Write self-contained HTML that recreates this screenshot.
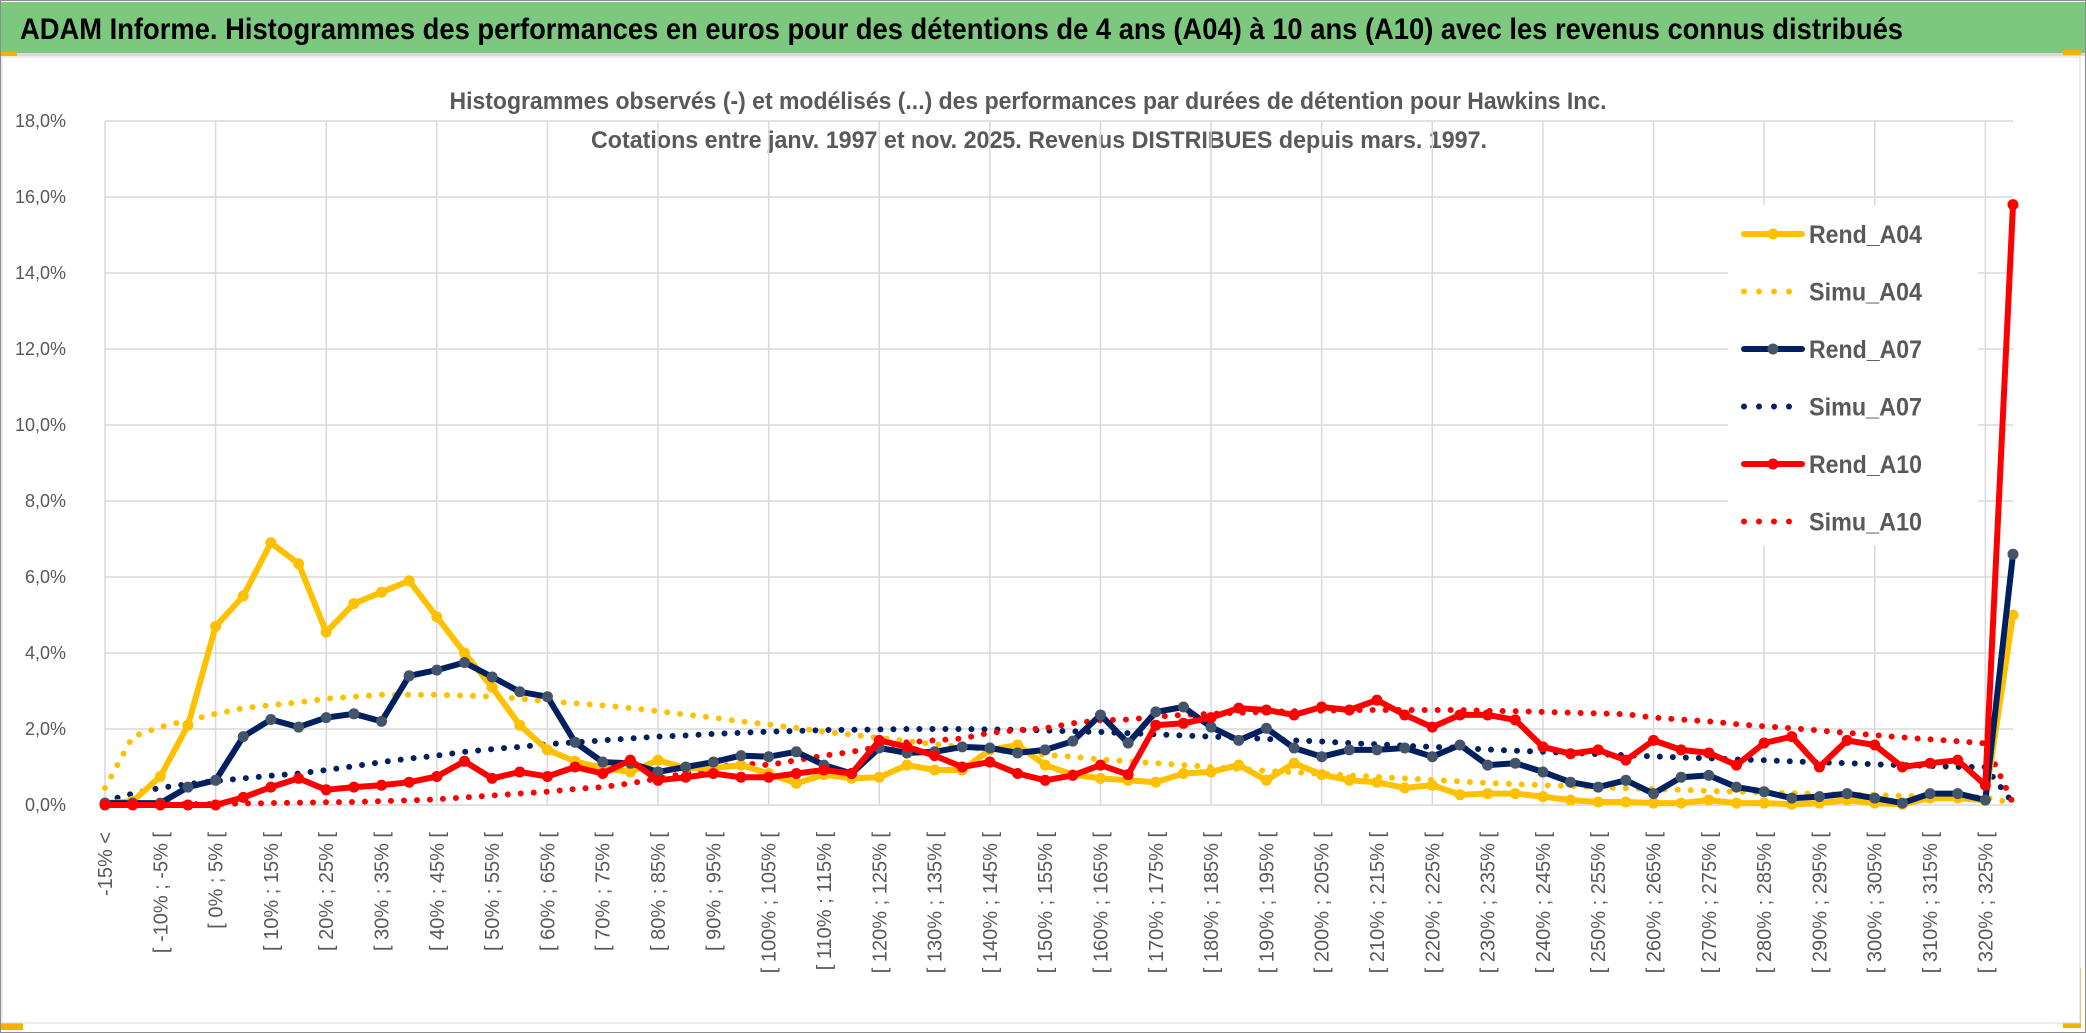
<!DOCTYPE html>
<html><head><meta charset="utf-8"><style>
html,body{margin:0;padding:0;background:#fff;}
svg{display:block;font-family:"Liberation Sans",sans-serif;}
</style></head><body>
<svg id="chart" width="2086" height="1033" viewBox="0 0 2086 1033" xmlns="http://www.w3.org/2000/svg">
<rect x="0.5" y="0.5" width="2085" height="1032" fill="#fff" stroke="#8c8c8c"/>
<rect x="1" y="2" width="2084" height="51" fill="#7DC87F"/>
<rect x="1" y="53" width="2084" height="3" fill="#d9d9d9"/>
<rect x="1" y="52" width="16" height="4" fill="#f0b400"/>
<rect x="1" y="1023" width="22" height="7" fill="#f0b400"/>
<rect x="2063" y="50" width="18" height="5" fill="#f0b400"/>
<rect x="2063" y="968" width="18" height="60" fill="#f0b400"/>
<rect x="2" y="57" width="2078" height="966" fill="#fff" stroke="#d9d9d9"/>
<text x="20" y="39" font-size="30" font-weight="bold" fill="#000" textLength="1883" lengthAdjust="spacingAndGlyphs">ADAM Informe. Histogrammes des performances en euros pour des détentions de 4 ans (A04) à 10 ans (A10) avec les revenus connus distribués</text>
<text x="1028" y="109" font-size="24" font-weight="bold" fill="#595959" text-anchor="middle" textLength="1157" lengthAdjust="spacingAndGlyphs">Histogrammes observés (-) et modélisés (...) des performances par durées de détention pour Hawkins Inc.</text>
<text x="1039" y="148" font-size="24" font-weight="bold" fill="#595959" text-anchor="middle" textLength="896" lengthAdjust="spacingAndGlyphs">Cotations entre janv. 1997 et nov. 2025. Revenus DISTRIBUES depuis mars. 1997.</text>
<g id="grid"></g>
<g id="axes"></g>
<g id="series"></g>
<g id="legend"></g>
</svg>
<script>
const categories = ["-15% <","[ -15% ; -10% [","[ -10% ; -5% [","[ -5% ; 0% [","[ 0% ; 5% [","[ 5% ; 10% [","[ 10% ; 15% [","[ 15% ; 20% [","[ 20% ; 25% [","[ 25% ; 30% [","[ 30% ; 35% [","[ 35% ; 40% [","[ 40% ; 45% [","[ 45% ; 50% [","[ 50% ; 55% [","[ 55% ; 60% [","[ 60% ; 65% [","[ 65% ; 70% [","[ 70% ; 75% [","[ 75% ; 80% [","[ 80% ; 85% [","[ 85% ; 90% [","[ 90% ; 95% [","[ 95% ; 100% [","[ 100% ; 105% [","[ 105% ; 110% [","[ 110% ; 115% [","[ 115% ; 120% [","[ 120% ; 125% [","[ 125% ; 130% [","[ 130% ; 135% [","[ 135% ; 140% [","[ 140% ; 145% [","[ 145% ; 150% [","[ 150% ; 155% [","[ 155% ; 160% [","[ 160% ; 165% [","[ 165% ; 170% [","[ 170% ; 175% [","[ 175% ; 180% [","[ 180% ; 185% [","[ 185% ; 190% [","[ 190% ; 195% [","[ 195% ; 200% [","[ 200% ; 205% [","[ 205% ; 210% [","[ 210% ; 215% [","[ 215% ; 220% [","[ 220% ; 225% [","[ 225% ; 230% [","[ 230% ; 235% [","[ 235% ; 240% [","[ 240% ; 245% [","[ 245% ; 250% [","[ 250% ; 255% [","[ 255% ; 260% [","[ 260% ; 265% [","[ 265% ; 270% [","[ 270% ; 275% [","[ 275% ; 280% [","[ 280% ; 285% [","[ 285% ; 290% [","[ 290% ; 295% [","[ 295% ; 300% [","[ 300% ; 305% [","[ 305% ; 310% [","[ 310% ; 315% [","[ 315% ; 320% [","[ 320% ; 325% [","> 325%"];
const yTicks = [0,2,4,6,8,10,12,14,16,18];
const yTickLabels = ["0,0%","2,0%","4,0%","6,0%","8,0%","10,0%","12,0%","14,0%","16,0%","18,0%"];
const rendA04 = [0.05,0.1,0.75,2.1,4.7,5.5,6.9,6.35,4.55,5.3,5.6,5.9,4.95,4.0,3.1,2.1,1.45,1.15,0.97,0.87,1.18,0.97,0.97,1.05,0.83,0.57,0.8,0.7,0.73,1.05,0.92,0.92,1.45,1.58,1.05,0.8,0.7,0.65,0.6,0.83,0.87,1.05,0.65,1.1,0.8,0.65,0.6,0.45,0.52,0.27,0.3,0.3,0.22,0.13,0.08,0.08,0.05,0.05,0.13,0.05,0.05,0.02,0.05,0.13,0.05,0.02,0.18,0.18,0.13,5.0];
const simuA04 = [0.45,1.8,2.05,2.23,2.4,2.55,2.63,2.7,2.8,2.85,2.9,2.9,2.9,2.88,2.85,2.8,2.72,2.68,2.62,2.55,2.47,2.38,2.3,2.2,2.12,2.03,1.93,1.85,1.77,1.68,1.6,1.53,1.45,1.38,1.32,1.27,1.2,1.15,1.1,1.05,1.0,0.95,0.9,0.86,0.82,0.78,0.74,0.7,0.66,0.62,0.58,0.55,0.52,0.5,0.47,0.44,0.42,0.4,0.37,0.35,0.33,0.31,0.29,0.28,0.26,0.24,0.23,0.22,0.2,0.05];
const rendA07 = [0.05,0.05,0.05,0.47,0.65,1.8,2.25,2.05,2.3,2.4,2.2,3.4,3.55,3.75,3.37,2.98,2.85,1.65,1.13,1.1,0.87,1.0,1.13,1.3,1.27,1.4,1.05,0.83,1.5,1.37,1.4,1.53,1.5,1.37,1.45,1.68,2.37,1.63,2.45,2.58,2.05,1.7,2.02,1.5,1.27,1.45,1.45,1.5,1.27,1.58,1.05,1.1,0.87,0.6,0.47,0.65,0.3,0.73,0.78,0.47,0.35,0.18,0.22,0.3,0.18,0.05,0.3,0.3,0.13,6.6];
const simuA07 = [0.1,0.3,0.45,0.55,0.63,0.7,0.77,0.83,0.92,1.02,1.13,1.22,1.3,1.4,1.47,1.53,1.6,1.65,1.7,1.75,1.8,1.83,1.87,1.9,1.93,1.95,1.97,1.98,1.99,2.0,2.0,2.0,1.99,1.98,1.96,1.94,1.92,1.89,1.86,1.83,1.8,1.77,1.74,1.7,1.67,1.63,1.6,1.56,1.53,1.5,1.46,1.43,1.4,1.37,1.34,1.31,1.28,1.25,1.23,1.2,1.18,1.15,1.12,1.1,1.07,1.05,1.03,1.0,1.0,0.05];
const rendA10 = [0,0,0,0,0,0.2,0.47,0.7,0.4,0.47,0.52,0.6,0.75,1.15,0.7,0.87,0.75,1.0,0.83,1.18,0.65,0.73,0.83,0.73,0.73,0.83,0.92,0.83,1.7,1.53,1.3,1.0,1.13,0.83,0.65,0.78,1.05,0.8,2.1,2.15,2.3,2.55,2.5,2.37,2.58,2.5,2.76,2.37,2.05,2.37,2.37,2.24,1.53,1.35,1.45,1.18,1.7,1.45,1.37,1.05,1.63,1.8,1.0,1.7,1.58,1.0,1.1,1.18,0.52,15.8];
const simuA10 = [0,0,0.01,0.02,0.03,0.04,0.05,0.06,0.07,0.08,0.1,0.12,0.15,0.2,0.25,0.3,0.35,0.42,0.47,0.57,0.7,0.83,0.97,1.1,1.05,1.18,1.3,1.4,1.53,1.65,1.7,1.75,1.9,1.97,2.02,2.15,2.23,2.25,2.32,2.37,2.4,2.43,2.45,2.47,2.48,2.5,2.5,2.5,2.5,2.5,2.48,2.47,2.45,2.43,2.41,2.39,2.3,2.25,2.2,2.13,2.07,2.02,1.96,1.9,1.84,1.78,1.73,1.68,1.62,0.05];

const NS = "http://www.w3.org/2000/svg";
const X0 = 105, X1 = 2013, Y0 = 805, Y1 = 121, YMAX = 18;
function xPos(i){ return X0 + (X1 - X0) * i / (categories.length - 1); }
function yPos(v){ return Y0 - (Y0 - Y1) * v / YMAX; }
function mk(tag, attrs, parent){ const e = document.createElementNS(NS, tag); for (const k in attrs) e.setAttribute(k, attrs[k]); parent.appendChild(e); return e; }

const grid = document.getElementById('grid');
yTicks.forEach((t, k) => {
  const l = mk('line', {x1: X0, x2: X1, y1: yPos(t), y2: yPos(t), stroke: '#d9d9d9', 'stroke-width': 1.5}, grid);
  
  
});
categories.forEach((c, i) => {
  if (i % 4 === 0) {
    const l = mk('line', {x1: xPos(i), x2: xPos(i), y1: Y1, y2: Y0, stroke: '#d9d9d9', 'stroke-width': 1.5}, grid);
    
    
  }
});
const axes = document.getElementById('axes');
yTicks.forEach((t, k) => {
  const tx = mk('text', {x: 66, y: yPos(t) + 6, 'font-size': 18, fill: '#595959', 'text-anchor': 'end'}, axes);
  tx.textContent = yTickLabels[k];
  
  
});
categories.forEach((c, i) => {
  if (i % 2 === 0) {
    const x = xPos(i) + 7, y = 832;
    const tx = mk('text', {x: x, y: y, 'font-size': 20, fill: '#595959', 'text-anchor': 'end', transform: 'rotate(-90 ' + x + ' ' + y + ')'}, axes);
    tx.textContent = c;
    
    
  }
});

const series = document.getElementById('series');
function pts(arr){ return arr.map((v, i) => xPos(i).toFixed(1) + ',' + yPos(v).toFixed(1)).join(' '); }
function dotted(arr, color, name){
  const p = mk('polyline', {points: pts(arr), fill: 'none', stroke: color, 'stroke-width': 6, 'stroke-linecap': 'round', 'stroke-dasharray': '0 13'}, series);
  
  
}
function solid(arr, color, mcolor, name){
  const p = mk('polyline', {points: pts(arr), fill: 'none', stroke: color, 'stroke-width': 6, 'stroke-linejoin': 'round'}, series);
  
  
  arr.forEach((v, i) => {
    const c = mk('circle', {cx: xPos(i), cy: yPos(v), r: 5.5, fill: mcolor}, series);
    
    
  });
}
dotted(simuA04, '#FFC000', 'simu-a04-line');
dotted(simuA07, '#002060', 'simu-a07-line');
dotted(simuA10, '#FF0000', 'simu-a10-line');
solid(rendA04, '#FFC000', '#FFC000', 'rend-a04-line');
solid(rendA07, '#002060', '#44546A', 'rend-a07-line');
solid(rendA10, '#FF0000', '#FF0000', 'rend-a10-line');

const legendNames = ['Rend_A04','Simu_A04','Rend_A07','Simu_A07','Rend_A10','Simu_A10'];
const legendColors = ['#FFC000','#FFC000','#002060','#002060','#FF0000','#FF0000'];
const legendMarkers = ['#FFC000',null,'#44546A',null,'#FF0000',null];
const legend = document.getElementById('legend');
mk('rect', {x: 1728, y: 205, width: 250, height: 340, fill: '#fff'}, legend);
legendNames.forEach((n, k) => {
  const y = 234 + k * 57.5;
  const g = mk('g', {}, legend);
  
  
  if (legendMarkers[k]) {
    mk('line', {x1: 1744, x2: 1802, y1: y, y2: y, stroke: legendColors[k], 'stroke-width': 6, 'stroke-linecap': 'round'}, g);
    mk('circle', {cx: 1773, cy: y, r: 5.5, fill: legendMarkers[k]}, g);
  } else {
    mk('line', {x1: 1744, x2: 1800, y1: y, y2: y, stroke: legendColors[k], 'stroke-width': 6, 'stroke-linecap': 'round', 'stroke-dasharray': '0 15'}, g);
  }
  const t = mk('text', {x: 1809, y: y + 9, 'font-size': 25, 'font-weight': 'bold', fill: '#595959', textLength: 113, lengthAdjust: 'spacingAndGlyphs'}, g);
  t.textContent = n;
});
</script>
</body></html>
